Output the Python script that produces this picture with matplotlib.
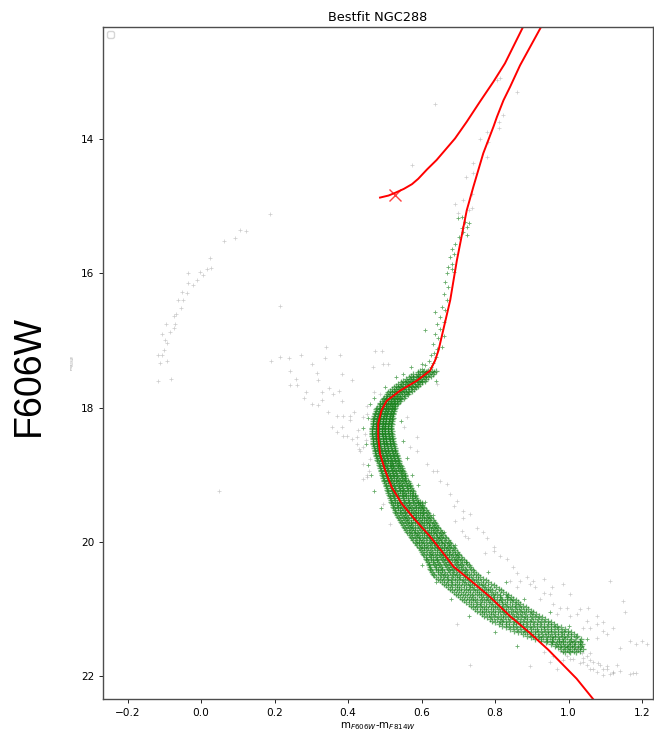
import numpy as np
import matplotlib
matplotlib.use("Agg")
import matplotlib.pyplot as plt

# ---------------- data ----------------
title = "Bestfit NGC288"
x_ticks = [-0.2, 0.0, 0.2, 0.4, 0.6, 0.8, 1.0, 1.2]
y_ticks = [14, 16, 18, 20, 22]

# isochrone: main sequence -> sub-giant -> red giant branch
iso_rgb_col = [1.09, 1.022, 0.945, 0.895, 0.841, 0.786, 0.732, 0.687, 0.659, 0.623,
               0.582, 0.546, 0.519, 0.501, 0.487, 0.482, 0.482, 0.491, 0.505, 0.541,
               0.587, 0.623, 0.636, 0.646, 0.678, 0.696, 0.714, 0.723, 0.741, 0.768, 0.796,
               0.805, 0.823, 0.841, 0.868, 0.898, 0.925, 0.95]
iso_rgb_mag = [22.5, 22.04, 21.61, 21.36, 21.11, 20.82, 20.57, 20.37, 20.17, 19.92,
               19.67, 19.43, 19.19, 18.94, 18.69, 18.44, 18.24, 18.04, 17.90, 17.75,
               17.60, 17.45, 17.31, 17.15, 16.40, 15.81, 15.31, 15.06, 14.71, 14.21, 13.81,
               13.67, 13.42, 13.22, 12.90, 12.60, 12.33, 12.05]
# isochrone: horizontal branch -> asymptotic giant branch
iso_agb_col = [0.487, 0.510, 0.528, 0.552, 0.574, 0.591, 0.615, 0.641, 0.691, 0.723, 0.759,
               0.796, 0.827, 0.876, 0.90]
iso_agb_mag = [14.87, 14.84, 14.80, 14.74, 14.67, 14.59, 14.45, 14.31, 13.99, 13.74, 13.44,
               13.14, 12.87, 12.33, 12.0]
# best-fit marker
hb_col = [0.528]
hb_mag = [14.83]

# all observed stars (grey)
gray_col = [0.188, 0.106, 0.121, 0.063, 0.091, 0.024, 0.016, 0.026, -0.003, 0.005, -0.036, -0.012,
            -0.021, -0.035, -0.053, -0.039, -0.062, -0.048, -0.054, -0.075, -0.068, -0.095, -0.071,
            -0.075, -0.086, -0.107, -0.098, -0.093, -0.101, -0.116, -0.107, -0.113, -0.093, -0.116,
            -0.082, 0.215, 0.050,
            0.190, 0.215, 0.238, 0.271, 0.340, 0.336, 0.378, 0.301, 0.242, 0.257, 0.242, 0.260, 0.315,
            0.319, 0.383, 0.410, 0.286, 0.280, 0.301, 0.328, 0.328, 0.348, 0.360, 0.374, 0.383, 0.319,
            0.346, 0.369, 0.386, 0.405, 0.415, 0.404, 0.356, 0.383, 0.369, 0.387, 0.396, 0.410, 0.428,
            0.440, 0.451, 0.424, 0.431, 0.442, 0.449, 0.446, 0.442, 0.458, 0.451, 0.442, 0.460, 0.473,
            0.492, 0.496, 0.510, 0.469, 0.451, 0.471, 0.487, 0.424, 0.433, 0.451, 0.496, 0.514,
            0.560, 0.551, 0.587, 0.569, 0.614, 0.632, 0.650, 0.669, 0.678, 0.696, 0.714, 0.732, 0.750,
            0.777, 0.796, 0.643, 0.587, 0.641,
            0.687, 0.691, 0.714, 0.709, 0.718, 0.727, 0.768, 0.773, 0.796, 0.814, 0.832, 0.850, 0.859,
            0.868, 0.886, 0.895, 0.909, 0.859, 0.841, 0.932, 0.950, 0.922, 0.959, 0.977, 0.995, 0.968,
            1.004, 1.022, 1.050, 1.077, 1.040, 1.095, 1.113, 1.154, 1.167, 1.185, 1.199, 0.977, 0.995,
            1.013, 1.031, 1.040, 1.050, 1.059, 1.068, 1.081, 1.095, 1.104, 1.122, 1.113, 1.140, 1.167,
            1.185, 1.022, 1.004, 1.036, 1.059, 0.986, 0.959, 0.732, 0.696, 0.895,
            0.904, 0.932, 0.954, 0.986, 1.004, 1.031, 1.054, 1.077, 1.095, 1.149, 1.122, 1.140, 1.059,
            1.077, 1.104, 1.013, 1.031, 1.050, 1.068, 1.040, 1.086, 1.104, 1.122, 1.059, 1.077, 1.095,
            1.131, 1.176, 1.004, 0.986, 1.022, 0.950, 0.968, 0.932, 1.213,
            0.637, 0.573, 0.814, 0.805, 0.859, 0.823, 0.810, 0.810, 0.777, 0.759, 0.782, 0.777, 0.741,
            0.721, 0.741, 0.736, 0.714, 0.691, 0.736, 0.700, 0.730]
gray_mag = [15.12, 15.35, 15.37, 15.52, 15.47, 15.77, 15.93, 15.92, 15.98, 16.03, 16.00, 16.10,
            16.18, 16.15, 16.28, 16.29, 16.40, 16.40, 16.51, 16.63, 16.61, 16.76, 16.75,
            16.81, 16.88, 16.90, 17.00, 17.03, 17.14, 17.21, 17.21, 17.34, 17.30, 17.61,
            17.58, 16.48, 19.24,
            17.31, 17.25, 17.26, 17.21, 17.09, 17.26, 17.22, 17.35, 17.45, 17.57, 17.67, 17.66, 17.49,
            17.59, 17.50, 17.59, 17.77, 17.86, 17.95, 17.77, 17.89, 17.71, 17.80, 17.76, 17.90, 17.96,
            18.07, 18.12, 18.13, 18.13, 18.07, 18.19, 18.29, 18.29, 18.37, 18.42, 18.42, 18.47, 18.34,
            18.14, 18.09, 18.54, 18.62, 18.59, 18.49, 18.39, 18.84, 18.94, 19.01, 19.06, 18.77, 17.15,
            17.15, 17.35, 17.35, 17.40, 17.97, 17.77, 17.80, 18.44, 18.64, 19.04, 19.44, 19.74,
            18.14, 18.29, 18.44, 18.59, 18.84, 18.94, 19.09, 19.14, 19.29, 19.39, 19.54, 19.59, 19.79,
            19.94, 20.13, 17.65, 18.64, 18.94,
            19.46, 19.69, 19.64, 19.84, 19.91, 19.94, 19.86, 20.16, 20.08, 20.21, 20.26, 20.38, 20.46,
            20.58, 20.53, 20.63, 20.68, 20.68, 20.58, 20.76, 20.78, 20.86, 20.93, 20.98, 20.98, 21.08,
            21.10, 21.08, 21.18, 21.23, 21.28, 21.33, 20.58, 21.05, 21.48, 21.53, 21.48, 21.63, 21.70,
            21.75, 21.80, 21.73, 21.84, 21.76, 21.89, 21.81, 21.89, 21.85, 21.95, 21.97, 21.92, 21.97,
            21.95, 21.60, 21.55, 21.66, 21.66, 21.76, 21.70, 21.84, 21.23, 21.85,
            20.58, 20.56, 20.68, 20.63, 20.78, 21.00, 20.98, 21.10, 21.20, 20.88, 21.28, 21.58, 21.28,
            21.43, 21.38, 21.48, 21.63, 21.70, 21.79, 21.79, 21.84, 21.89, 21.94, 21.89, 21.94, 21.99,
            21.84, 21.95, 21.75, 21.64, 21.58, 21.79, 21.89, 21.64, 21.53,
            13.48, 14.39, 13.09, 13.12, 13.29, 13.64, 13.74, 13.84, 13.89, 13.99, 14.04, 14.27, 14.36,
            14.56, 14.51, 14.81, 14.91, 14.96, 15.03, 15.10, 15.05]

# cluster members (green): sparse upper giant branch
green_rgb_col = [0.711, 0.718, 0.730, 0.723, 0.709, 0.700, 0.714, 0.723, 0.703, 0.691, 0.682, 0.687,
                 0.678, 0.682, 0.673, 0.682, 0.669, 0.687, 0.664, 0.673, 0.660, 0.669, 0.655, 0.664,
                 0.637, 0.650, 0.660, 0.641, 0.650, 0.610, 0.637, 0.660, 0.646, 0.632, 0.655, 0.641,
                 0.635, 0.625, 0.640, 0.620, 0.632, 0.610, 0.625, 0.600, 0.615]
green_rgb_mag = [15.16, 15.23, 15.25, 15.31, 15.33, 15.18, 15.38, 15.43, 15.46, 15.56, 15.63, 15.71,
                 15.76, 15.86, 15.91, 15.93, 16.00, 15.98, 16.13, 16.20, 16.30, 16.40, 16.50, 16.55,
                 16.58, 16.65, 16.73, 16.75, 16.83, 16.85, 16.90, 16.93, 16.97, 17.05, 17.10, 17.12,
                 17.18, 17.22, 17.25, 17.30, 17.33, 17.36, 17.40, 17.42, 17.45]

# cluster members (green): dense sub-giant branch and main sequence, by magnitude row
green_row_mags = [17.45, 17.50, 17.55, 17.60, 17.65, 17.70, 17.75, 17.80, 17.85, 17.90, 17.95,
                  18.00, 18.05, 18.10, 18.15, 18.20, 18.25, 18.30, 18.35, 18.40, 18.45, 18.50,
                  18.55, 18.60, 18.65, 18.70, 18.75, 18.80, 18.85, 18.90, 18.95, 19.00, 19.05,
                  19.10, 19.15, 19.20, 19.25, 19.30, 19.35, 19.40, 19.45, 19.50, 19.55, 19.60,
                  19.65, 19.70, 19.75, 19.80, 19.85, 19.90, 19.95, 20.00, 20.05, 20.10, 20.15,
                  20.20, 20.25, 20.30, 20.35, 20.40, 20.45, 20.50, 20.55, 20.60, 20.65, 20.70,
                  20.75, 20.80, 20.85, 20.90, 20.95, 21.00, 21.05, 21.10, 21.15, 21.20, 21.25,
                  21.30, 21.35, 21.40, 21.45, 21.50, 21.55, 21.60, 21.65]
green_row_cols = [
    [0.596, 0.607, 0.618, 0.628, 0.639],
    [0.578, 0.590, 0.600, 0.610, 0.620, 0.632],
    [0.565, 0.576, 0.587, 0.597, 0.607, 0.618],
    [0.550, 0.560, 0.570, 0.580, 0.590, 0.600, 0.610],
    [0.537, 0.547, 0.557, 0.567, 0.577, 0.587, 0.597],
    [0.525, 0.535, 0.545, 0.555, 0.565, 0.575, 0.586],
    [0.515, 0.524, 0.533, 0.543, 0.553, 0.563, 0.574],
    [0.506, 0.515, 0.524, 0.533, 0.542, 0.552, 0.562],
    [0.498, 0.507, 0.516, 0.524, 0.533, 0.542, 0.551],
    [0.491, 0.500, 0.508, 0.516, 0.524, 0.532, 0.540],
    [0.486, 0.494, 0.502, 0.510, 0.518, 0.526, 0.534],
    [0.480, 0.488, 0.496, 0.504, 0.512, 0.520, 0.527],
    [0.475, 0.484, 0.492, 0.500, 0.508, 0.516, 0.524],
    [0.472, 0.481, 0.490, 0.498, 0.506, 0.514, 0.522],
    [0.470, 0.479, 0.488, 0.496, 0.504, 0.512, 0.521],
    [0.469, 0.477, 0.486, 0.494, 0.502, 0.511, 0.520],
    [0.467, 0.476, 0.485, 0.493, 0.501, 0.510, 0.519],
    [0.466, 0.475, 0.484, 0.492, 0.500, 0.509, 0.518],
    [0.466, 0.475, 0.484, 0.493, 0.501, 0.510, 0.519],
    [0.466, 0.474, 0.483, 0.492, 0.501, 0.510, 0.520],
    [0.467, 0.476, 0.485, 0.494, 0.502, 0.511, 0.521],
    [0.468, 0.477, 0.486, 0.495, 0.504, 0.513, 0.522],
    [0.469, 0.478, 0.488, 0.497, 0.506, 0.515, 0.525],
    [0.471, 0.480, 0.490, 0.499, 0.508, 0.517, 0.527],
    [0.473, 0.482, 0.492, 0.501, 0.510, 0.519, 0.529],
    [0.475, 0.485, 0.495, 0.504, 0.513, 0.522, 0.532],
    [0.478, 0.488, 0.498, 0.507, 0.516, 0.525, 0.535],
    [0.481, 0.491, 0.501, 0.510, 0.519, 0.528, 0.538],
    [0.484, 0.494, 0.504, 0.513, 0.522, 0.532, 0.542],
    [0.487, 0.497, 0.507, 0.517, 0.526, 0.536, 0.546],
    [0.490, 0.500, 0.510, 0.520, 0.530, 0.540, 0.550],
    [0.493, 0.503, 0.513, 0.523, 0.533, 0.543, 0.554],
    [0.496, 0.506, 0.516, 0.526, 0.536, 0.546, 0.556],
    [0.499, 0.510, 0.520, 0.531, 0.541, 0.552, 0.563],
    [0.502, 0.513, 0.524, 0.535, 0.546, 0.557, 0.568],
    [0.505, 0.516, 0.527, 0.538, 0.549, 0.560, 0.572],
    [0.508, 0.519, 0.531, 0.542, 0.553, 0.564, 0.576],
    [0.511, 0.523, 0.535, 0.547, 0.558, 0.569, 0.581],
    [0.514, 0.526, 0.538, 0.550, 0.562, 0.574, 0.586],
    [0.517, 0.529, 0.541, 0.553, 0.565, 0.577, 0.589, 0.597],
    [0.521, 0.533, 0.545, 0.557, 0.569, 0.581, 0.593, 0.602],
    [0.525, 0.537, 0.550, 0.562, 0.574, 0.586, 0.598, 0.608],
    [0.529, 0.541, 0.554, 0.567, 0.579, 0.591, 0.603, 0.614],
    [0.533, 0.546, 0.559, 0.572, 0.584, 0.596, 0.608, 0.620],
    [0.538, 0.551, 0.564, 0.577, 0.590, 0.602, 0.615, 0.627],
    [0.544, 0.557, 0.570, 0.583, 0.596, 0.608, 0.621, 0.633],
    [0.549, 0.562, 0.575, 0.589, 0.602, 0.615, 0.628, 0.640],
    [0.555, 0.568, 0.581, 0.595, 0.608, 0.621, 0.634, 0.646],
    [0.561, 0.574, 0.587, 0.601, 0.614, 0.627, 0.640, 0.652],
    [0.568, 0.581, 0.594, 0.608, 0.621, 0.634, 0.647, 0.659],
    [0.574, 0.587, 0.601, 0.615, 0.628, 0.641, 0.654, 0.667],
    [0.581, 0.594, 0.608, 0.622, 0.635, 0.648, 0.661, 0.674],
    [0.588, 0.601, 0.615, 0.629, 0.642, 0.655, 0.668, 0.681],
    [0.595, 0.608, 0.622, 0.636, 0.649, 0.662, 0.675, 0.688],
    [0.601, 0.615, 0.629, 0.643, 0.656, 0.669, 0.683, 0.696],
    [0.608, 0.622, 0.636, 0.650, 0.663, 0.676, 0.690, 0.703],
    [0.613, 0.627, 0.641, 0.655, 0.669, 0.683, 0.697, 0.711],
    [0.617, 0.632, 0.646, 0.661, 0.675, 0.690, 0.704, 0.720],
    [0.621, 0.636, 0.651, 0.666, 0.681, 0.696, 0.711, 0.728],
    [0.624, 0.640, 0.655, 0.671, 0.686, 0.702, 0.717, 0.735],
    [0.629, 0.645, 0.661, 0.677, 0.693, 0.709, 0.725, 0.743],
    [0.635, 0.652, 0.668, 0.685, 0.701, 0.718, 0.734, 0.753],
    [0.645, 0.662, 0.679, 0.696, 0.713, 0.730, 0.747, 0.767],
    [0.656, 0.673, 0.691, 0.709, 0.726, 0.743, 0.761, 0.782],
    [0.666, 0.684, 0.702, 0.720, 0.738, 0.756, 0.774, 0.796],
    [0.678, 0.696, 0.715, 0.733, 0.751, 0.769, 0.787, 0.810],
    [0.688, 0.707, 0.726, 0.745, 0.763, 0.781, 0.800, 0.822],
    [0.699, 0.718, 0.737, 0.756, 0.775, 0.794, 0.813, 0.835],
    [0.710, 0.728, 0.746, 0.764, 0.781, 0.798, 0.815, 0.833, 0.850],
    [0.722, 0.740, 0.758, 0.776, 0.793, 0.810, 0.827, 0.845, 0.862],
    [0.734, 0.752, 0.770, 0.788, 0.806, 0.823, 0.840, 0.858, 0.876],
    [0.746, 0.764, 0.782, 0.800, 0.818, 0.836, 0.854, 0.872, 0.890],
    [0.758, 0.776, 0.795, 0.813, 0.831, 0.849, 0.867, 0.885, 0.904],
    [0.771, 0.790, 0.808, 0.827, 0.845, 0.863, 0.881, 0.900, 0.919],
    [0.785, 0.804, 0.823, 0.842, 0.860, 0.878, 0.897, 0.916, 0.935],
    [0.801, 0.820, 0.839, 0.858, 0.876, 0.894, 0.913, 0.932, 0.951],
    [0.820, 0.839, 0.858, 0.877, 0.895, 0.913, 0.932, 0.951, 0.970],
    [0.840, 0.859, 0.878, 0.897, 0.915, 0.933, 0.952, 0.971, 0.990],
    [0.863, 0.881, 0.899, 0.917, 0.935, 0.953, 0.971, 0.989, 1.007],
    [0.887, 0.904, 0.921, 0.938, 0.955, 0.972, 0.989, 1.006, 1.023],
    [0.910, 0.926, 0.942, 0.958, 0.974, 0.990, 1.006, 1.034],
    [0.940, 0.955, 0.970, 0.985, 1.000, 1.015, 1.030],
    [0.962, 0.976, 0.990, 1.004, 1.018, 1.035],
    [0.980, 0.995, 1.010, 1.025, 1.040],
    [0.990, 1.005, 1.020],
]
# second set of rows, half-way between the first
green_half_mags = [17.475, 17.525, 17.575, 17.625, 17.675, 17.725, 17.775, 17.825, 17.875, 17.925,
                   17.975, 18.025, 18.075, 18.125, 18.175, 18.225, 18.275, 18.325, 18.375, 18.425,
                   18.475, 18.525, 18.575, 18.625, 18.675, 18.725, 18.775, 18.825, 18.875, 18.925,
                   18.975, 19.025, 19.075, 19.125, 19.175, 19.225, 19.275, 19.325, 19.375, 19.425,
                   19.475, 19.525, 19.575, 19.625, 19.675, 19.725, 19.775, 19.825, 19.875, 19.925,
                   19.975, 20.025, 20.075, 20.125, 20.175, 20.225, 20.275, 20.325, 20.375, 20.425,
                   20.475, 20.525, 20.575, 20.625, 20.675, 20.725, 20.775, 20.825, 20.875, 20.925,
                   20.975, 21.025, 21.075, 21.125, 21.175, 21.225, 21.275, 21.325, 21.375, 21.425,
                   21.475, 21.525, 21.575, 21.625]
green_half_cols = [
    [0.590, 0.603, 0.611, 0.624, 0.633],
    [0.572, 0.584, 0.593, 0.605, 0.613, 0.626],
    [0.557, 0.569, 0.578, 0.591, 0.599, 0.612],
    [0.543, 0.554, 0.562, 0.574, 0.582, 0.594, 0.602],
    [0.531, 0.542, 0.550, 0.562, 0.570, 0.582, 0.590],
    [0.520, 0.530, 0.538, 0.550, 0.558, 0.570, 0.579],
    [0.510, 0.520, 0.527, 0.539, 0.547, 0.558, 0.566],
    [0.502, 0.512, 0.519, 0.530, 0.537, 0.548, 0.555],
    [0.494, 0.504, 0.511, 0.521, 0.527, 0.538, 0.544],
    [0.488, 0.497, 0.503, 0.513, 0.519, 0.529, 0.536],
    [0.483, 0.491, 0.497, 0.507, 0.513, 0.523, 0.529],
    [0.477, 0.487, 0.493, 0.503, 0.509, 0.519, 0.524],
    [0.474, 0.483, 0.490, 0.500, 0.506, 0.516, 0.522],
    [0.471, 0.481, 0.488, 0.498, 0.504, 0.514, 0.520],
    [0.469, 0.479, 0.486, 0.496, 0.502, 0.513, 0.519],
    [0.468, 0.478, 0.484, 0.495, 0.501, 0.511, 0.518],
    [0.467, 0.476, 0.483, 0.494, 0.500, 0.510, 0.517],
    [0.466, 0.475, 0.482, 0.493, 0.499, 0.510, 0.517],
    [0.466, 0.475, 0.482, 0.493, 0.500, 0.511, 0.518],
    [0.466, 0.476, 0.483, 0.494, 0.501, 0.512, 0.519],
    [0.467, 0.477, 0.484, 0.495, 0.502, 0.513, 0.520],
    [0.468, 0.478, 0.486, 0.497, 0.504, 0.515, 0.522],
    [0.470, 0.480, 0.488, 0.499, 0.506, 0.517, 0.525],
    [0.472, 0.482, 0.490, 0.501, 0.508, 0.519, 0.527],
    [0.474, 0.485, 0.492, 0.504, 0.511, 0.522, 0.530],
    [0.477, 0.488, 0.495, 0.507, 0.514, 0.525, 0.533],
    [0.480, 0.491, 0.498, 0.510, 0.517, 0.528, 0.536],
    [0.483, 0.494, 0.501, 0.513, 0.520, 0.531, 0.539],
    [0.486, 0.497, 0.505, 0.516, 0.523, 0.535, 0.543],
    [0.489, 0.500, 0.508, 0.519, 0.527, 0.539, 0.547],
    [0.492, 0.503, 0.511, 0.523, 0.531, 0.543, 0.551],
    [0.495, 0.506, 0.514, 0.526, 0.534, 0.546, 0.554],
    [0.498, 0.509, 0.517, 0.530, 0.538, 0.550, 0.559],
    [0.501, 0.513, 0.521, 0.534, 0.543, 0.556, 0.565],
    [0.504, 0.516, 0.525, 0.538, 0.547, 0.560, 0.569],
    [0.507, 0.519, 0.528, 0.541, 0.550, 0.563, 0.573],
    [0.510, 0.522, 0.532, 0.546, 0.555, 0.568, 0.578],
    [0.513, 0.526, 0.536, 0.550, 0.559, 0.573, 0.583],
    [0.516, 0.529, 0.539, 0.553, 0.563, 0.577, 0.587],
    [0.519, 0.532, 0.542, 0.556, 0.566, 0.580, 0.590, 0.600],
    [0.523, 0.536, 0.547, 0.561, 0.571, 0.585, 0.595, 0.605],
    [0.527, 0.540, 0.551, 0.566, 0.576, 0.590, 0.600, 0.611],
    [0.531, 0.545, 0.556, 0.571, 0.581, 0.595, 0.605, 0.617],
    [0.536, 0.550, 0.561, 0.576, 0.586, 0.600, 0.611, 0.624],
    [0.541, 0.555, 0.566, 0.581, 0.592, 0.606, 0.617, 0.630],
    [0.547, 0.561, 0.572, 0.587, 0.598, 0.613, 0.624, 0.637],
    [0.552, 0.566, 0.577, 0.593, 0.604, 0.619, 0.630, 0.643],
    [0.558, 0.572, 0.583, 0.599, 0.610, 0.625, 0.636, 0.649],
    [0.565, 0.579, 0.590, 0.606, 0.617, 0.632, 0.643, 0.656],
    [0.571, 0.585, 0.597, 0.613, 0.624, 0.639, 0.650, 0.663],
    [0.578, 0.592, 0.604, 0.620, 0.631, 0.646, 0.657, 0.671],
    [0.585, 0.599, 0.611, 0.627, 0.638, 0.653, 0.664, 0.678],
    [0.592, 0.606, 0.618, 0.634, 0.645, 0.660, 0.671, 0.685],
    [0.598, 0.613, 0.625, 0.641, 0.652, 0.667, 0.678, 0.692],
    [0.605, 0.620, 0.632, 0.648, 0.659, 0.674, 0.686, 0.700],
    [0.611, 0.626, 0.638, 0.654, 0.665, 0.681, 0.693, 0.707],
    [0.615, 0.631, 0.643, 0.659, 0.671, 0.688, 0.700, 0.716],
    [0.619, 0.635, 0.648, 0.665, 0.677, 0.694, 0.707, 0.724],
    [0.623, 0.639, 0.652, 0.670, 0.683, 0.700, 0.713, 0.732],
    [0.627, 0.644, 0.657, 0.675, 0.689, 0.707, 0.720, 0.739],
    [0.632, 0.650, 0.664, 0.682, 0.696, 0.715, 0.729, 0.748],
    [0.640, 0.658, 0.673, 0.691, 0.706, 0.725, 0.740, 0.760],
    [0.650, 0.669, 0.684, 0.703, 0.719, 0.738, 0.753, 0.775],
    [0.661, 0.680, 0.696, 0.716, 0.731, 0.751, 0.767, 0.789],
    [0.672, 0.691, 0.708, 0.728, 0.744, 0.764, 0.780, 0.803],
    [0.683, 0.703, 0.720, 0.740, 0.756, 0.776, 0.793, 0.816],
    [0.694, 0.714, 0.731, 0.752, 0.768, 0.789, 0.806, 0.829],
    [0.705, 0.724, 0.741, 0.761, 0.777, 0.797, 0.813, 0.832, 0.843],
    [0.716, 0.735, 0.751, 0.771, 0.786, 0.805, 0.820, 0.840, 0.856],
    [0.728, 0.747, 0.763, 0.783, 0.799, 0.818, 0.833, 0.853, 0.869],
    [0.740, 0.759, 0.775, 0.795, 0.811, 0.831, 0.846, 0.866, 0.883],
    [0.752, 0.771, 0.788, 0.808, 0.824, 0.844, 0.860, 0.880, 0.897],
    [0.765, 0.784, 0.801, 0.821, 0.837, 0.857, 0.873, 0.894, 0.912],
    [0.778, 0.798, 0.815, 0.836, 0.852, 0.872, 0.888, 0.909, 0.927],
    [0.793, 0.813, 0.830, 0.851, 0.867, 0.887, 0.904, 0.925, 0.943],
    [0.811, 0.831, 0.848, 0.869, 0.885, 0.905, 0.922, 0.943, 0.961],
    [0.830, 0.850, 0.867, 0.888, 0.904, 0.924, 0.941, 0.962, 0.980],
    [0.852, 0.871, 0.887, 0.908, 0.924, 0.944, 0.961, 0.981, 0.998],
    [0.875, 0.894, 0.909, 0.929, 0.944, 0.964, 0.979, 0.999, 1.015],
    [0.898, 0.916, 0.931, 0.949, 0.963, 0.982, 0.997, 1.020],
    [0.925, 0.941, 0.955, 0.973, 0.986, 1.004, 1.017, 1.032],
    [0.951, 0.966, 0.979, 0.996, 1.009, 1.026, 1.038],
    [0.971, 0.987, 0.999, 1.016, 1.030],
    [0.985, 1.001, 1.014, 1.032],
]
# cluster members (green): stragglers around the sequence
green_out_col = [0.440, 0.450, 0.455, 0.462, 0.470, 0.490, 0.455, 0.460, 0.470, 0.545, 0.550, 0.560,
                 0.575, 0.590, 0.610, 0.630, 0.660, 0.690, 0.720, 0.600, 0.640, 0.680, 0.730, 0.800,
                 0.860, 0.780, 0.830, 0.880, 0.950, 1.000, 1.050, 0.570, 0.600, 0.550, 0.640, 0.500,
                 0.530, 0.560]
green_out_mag = [18.30, 18.55, 18.85, 19.00, 19.25, 19.50, 18.15, 17.95, 17.85, 18.20, 18.50, 18.75,
                 19.00, 19.15, 19.40, 19.60, 19.85, 20.05, 20.30, 20.35, 20.60, 20.85, 21.10, 21.35,
                 21.55, 20.45, 20.60, 20.85, 21.05, 21.25, 21.45, 17.40, 17.35, 17.50, 17.60, 17.70,
                 17.55, 17.80]

# ---------------- assemble member arrays ----------------
band_col = ([c for row in green_row_cols for c in row]
            + [c for row in green_half_cols for c in row])
band_mag = ([m for m, row in zip(green_row_mags, green_row_cols) for _ in row]
            + [m for m, row in zip(green_half_mags, green_half_cols) for _ in row])
sparse_col = list(green_rgb_col) + list(green_out_col)
sparse_mag = list(green_rgb_mag) + list(green_out_mag)

# ---------------- figure ----------------
fig = plt.figure(figsize=(6.54, 7.34), dpi=100)
ax = fig.add_axes([0.1575, 0.0477, 0.841, 0.9155])

ax.plot(gray_col, gray_mag, linestyle="none", marker="+", ms=2.6, mew=0.5,
        color="0.55", alpha=0.45)
ax.plot(band_col, band_mag, linestyle="none", marker="+", ms=4.6, mew=0.9,
        color="#16801a", alpha=0.62)
ax.plot(sparse_col, sparse_mag, linestyle="none", marker="+", ms=2.8, mew=0.6,
        color="#16801a", alpha=0.65)
ax.plot(iso_rgb_col, iso_rgb_mag, color="red", lw=1.4)
ax.plot(iso_agb_col, iso_agb_mag, color="red", lw=1.4)
ax.plot(hb_col, hb_mag, linestyle="none", marker="x", ms=8, mew=1.0, color="red", alpha=0.75)

ax.set_xlim(-0.267, 1.230)
ax.set_ylim(22.343, 12.328)
ax.set_xticks(x_ticks)
ax.set_yticks(y_ticks)
ax.tick_params(labelsize=7.6, length=2.8, width=0.6)
for s in ax.spines.values():
    s.set_linewidth(1.0)
    s.set_color("0.3")

ax.set_title(title, fontsize=9.3, pad=4)
ax.set_xlabel("m$_{F606W}$-m$_{F814W}$", fontsize=7.4, labelpad=2)
ax.set_ylabel("m$_{F606W}$", fontsize=3, color="0.6", labelpad=3)
ax.legend(handles=[], loc="upper left", fontsize=6)

fig.text(0.044, 0.489, "F606W", rotation=90, fontsize=27, family="Liberation Sans",
         ha="center", va="center")

fig.savefig("out.png", dpi=100)
